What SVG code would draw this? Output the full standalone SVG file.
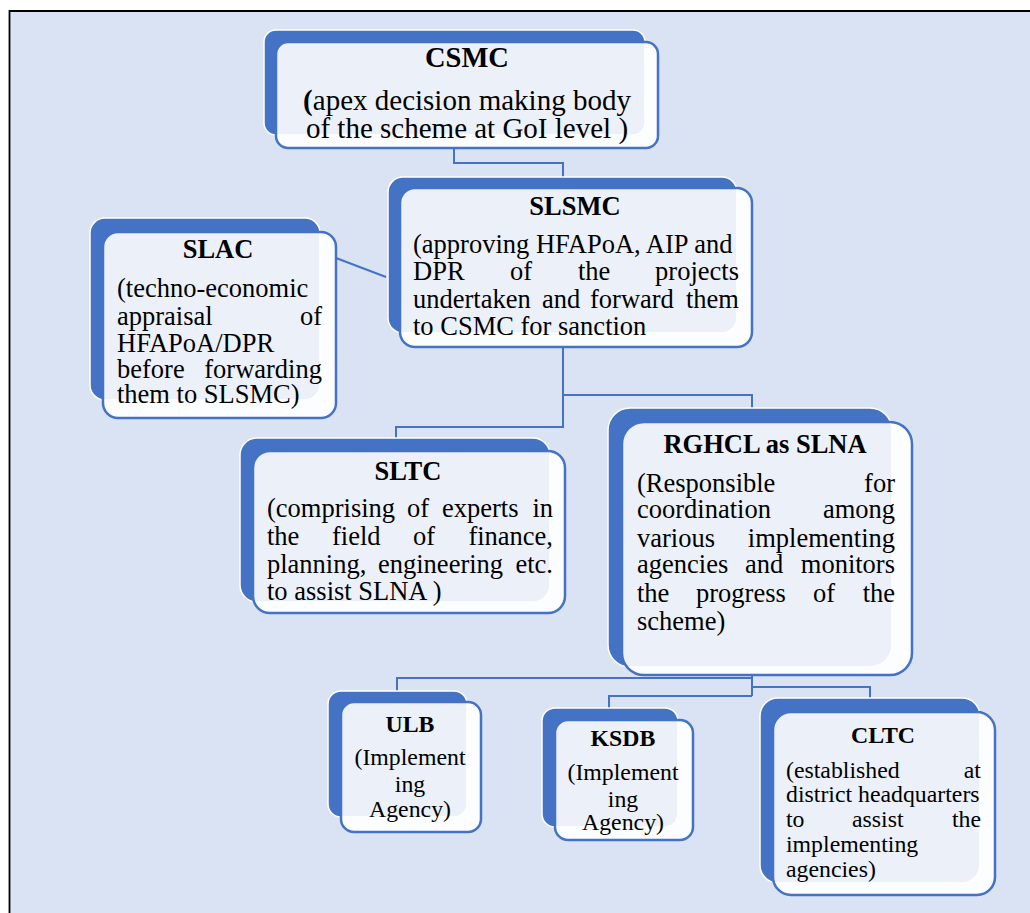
<svg xmlns="http://www.w3.org/2000/svg" width="1030" height="913" viewBox="0 0 1030 913" font-family="Liberation Serif, serif">
<style>
.back{fill:#4472c4;stroke:#ffffff;stroke-width:1.5}
.front{fill:#ffffff;fill-opacity:0.9;stroke:#4472c4;stroke-width:2.5}
.conn{fill:none;stroke:#4472c4;stroke-width:2}
text{font-family:'Liberation Serif', serif;fill:#000}
.t{font-weight:bold;text-anchor:middle}
.e{text-anchor:end}
.m{text-anchor:middle}
.f26{font-size:26.5px}
.f29{font-size:29px}
.f24{font-size:23.8px}
</style>
<rect x="0" y="0" width="1030" height="913" fill="#ffffff"/>
<rect x="9" y="11" width="1030" height="910" fill="#dae3f3"/>
<path d="M9.5,913 V11 H1030" fill="none" stroke="#000" stroke-width="1.8"/>
<g id="connectors">
<path class="conn" d="M454,148 V163 H563 V177"/>
<path class="conn" d="M336,258 L386,277"/>
<path class="conn" d="M563,347 V427 H396 V438"/>
<path class="conn" d="M563,395 H752 V408"/>
<path class="conn" d="M752,675 V696"/>
<path class="conn" d="M752,678 H397 V691"/>
<path class="conn" d="M752,687 H870 V698"/>
<path class="conn" d="M752,696 H609 V708"/>
</g>
<g id="csmc">
<rect class="back" x="264" y="30" width="381" height="105" rx="12"/>
<rect class="front" x="276" y="42" width="382" height="106" rx="12"/>
<text class="t" x="467" y="67" font-size="28.5px">CSMC</text>
<text class="f29" x="467" y="110" text-anchor="middle"><tspan font-weight="bold">(</tspan>apex decision making body</text>
<text class="f29" x="467" y="138" text-anchor="middle">of the scheme at GoI level )</text>
</g>
<g id="slsmc">
<rect class="back" x="388" y="177" width="349" height="156" rx="15"/>
<rect class="front" x="400" y="188" width="352" height="159" rx="15"/>
<text class="t f26" x="575" y="215">SLSMC</text>
<text class="f26" x="413" y="253">(approving HFAPoA, AIP and</text>
<text class="f26" y="280"><tspan x="413">DPR</tspan><tspan x="510">of</tspan><tspan x="578">the</tspan><tspan x="739" class="e">projects</tspan></text>
<text class="f26" y="308"><tspan x="413">undertaken</tspan><tspan x="542">and</tspan><tspan x="590">forward</tspan><tspan x="739" class="e">them</tspan></text>
<text class="f26" x="413" y="335">to CSMC for sanction</text>
</g>
<g id="slac">
<rect class="back" x="90" y="218" width="230" height="182" rx="15"/>
<rect class="front" x="103" y="232" width="233" height="186" rx="15"/>
<text class="t f26" x="218" y="258">SLAC</text>
<text class="f26" x="117" y="297">(techno-economic</text>
<text class="f26" y="325"><tspan x="117">appraisal</tspan><tspan x="322" class="e">of</tspan></text>
<text class="f26" x="117" y="352">HFAPoA/DPR</text>
<text class="f26" y="378"><tspan x="117">before</tspan><tspan x="322" class="e">forwarding</tspan></text>
<text class="f26" x="117" y="403">them to SLSMC)</text>
</g>
<g id="sltc">
<rect class="back" x="240" y="438" width="310" height="164" rx="17"/>
<rect class="front" x="253" y="451" width="312" height="162" rx="17"/>
<text class="t f26" x="408" y="480">SLTC</text>
<text class="f26" y="517"><tspan x="267">(comprising</tspan><tspan x="407">of</tspan><tspan x="442">experts</tspan><tspan x="553" class="e">in</tspan></text>
<text class="f26" y="545"><tspan x="267">the</tspan><tspan x="332">field</tspan><tspan x="413">of</tspan><tspan x="553" class="e">finance,</tspan></text>
<text class="f26" y="573"><tspan x="267">planning,</tspan><tspan x="378">engineering</tspan><tspan x="553" class="e">etc.</tspan></text>
<text class="f26" x="267" y="600">to assist SLNA )</text>
</g>
<g id="rghcl">
<rect class="back" x="608" y="408" width="284" height="259" rx="22"/>
<rect class="front" x="622" y="422" width="290" height="253" rx="22"/>
<text class="t f26" x="765" y="453">RGHCL as SLNA</text>
<text class="f26" y="492"><tspan x="637">(Responsible</tspan><tspan x="895" class="e">for</tspan></text>
<text class="f26" y="518"><tspan x="637">coordination</tspan><tspan x="895" class="e">among</tspan></text>
<text class="f26" y="547"><tspan x="637">various</tspan><tspan x="895" class="e">implementing</tspan></text>
<text class="f26" y="573"><tspan x="637">agencies</tspan><tspan x="745">and</tspan><tspan x="895" class="e">monitors</tspan></text>
<text class="f26" y="602"><tspan x="637">the</tspan><tspan x="696">progress</tspan><tspan x="813">of</tspan><tspan x="895" class="e">the</tspan></text>
<text class="f26" x="637" y="630">scheme)</text>
</g>
<g id="ulb">
<rect class="back" x="328" y="691" width="139" height="126" rx="13"/>
<rect class="front" x="341" y="702" width="140" height="130" rx="13"/>
<text class="t f24" x="410" y="732">ULB</text>
<text class="f24 m" x="410" y="765">(Implement</text>
<text class="f24 m" x="410" y="792">ing</text>
<text class="f24 m" x="410" y="817">Agency)</text>
</g>
<g id="ksdb">
<rect class="back" x="542" y="708" width="136" height="119" rx="13"/>
<rect class="front" x="555" y="720" width="138" height="120" rx="13"/>
<text class="t f24" x="623" y="746">KSDB</text>
<text class="f24 m" x="623" y="780">(Implement</text>
<text class="f24 m" x="623" y="807">ing</text>
<text class="f24 m" x="623" y="830">Agency)</text>
</g>
<g id="cltc">
<rect class="back" x="760" y="698" width="220" height="185" rx="18"/>
<rect class="front" x="773" y="712" width="222" height="183" rx="18"/>
<text class="t f24" x="883" y="743">CLTC</text>
<text class="f24" y="778"><tspan x="786">(established</tspan><tspan x="981" class="e">at</tspan></text>
<text class="f24" x="786" y="802">district headquarters</text>
<text class="f24" y="827"><tspan x="786">to</tspan><tspan x="852">assist</tspan><tspan x="981" class="e">the</tspan></text>
<text class="f24" x="786" y="852">implementing</text>
<text class="f24" x="786" y="877">agencies)</text>
</g>
</svg>
